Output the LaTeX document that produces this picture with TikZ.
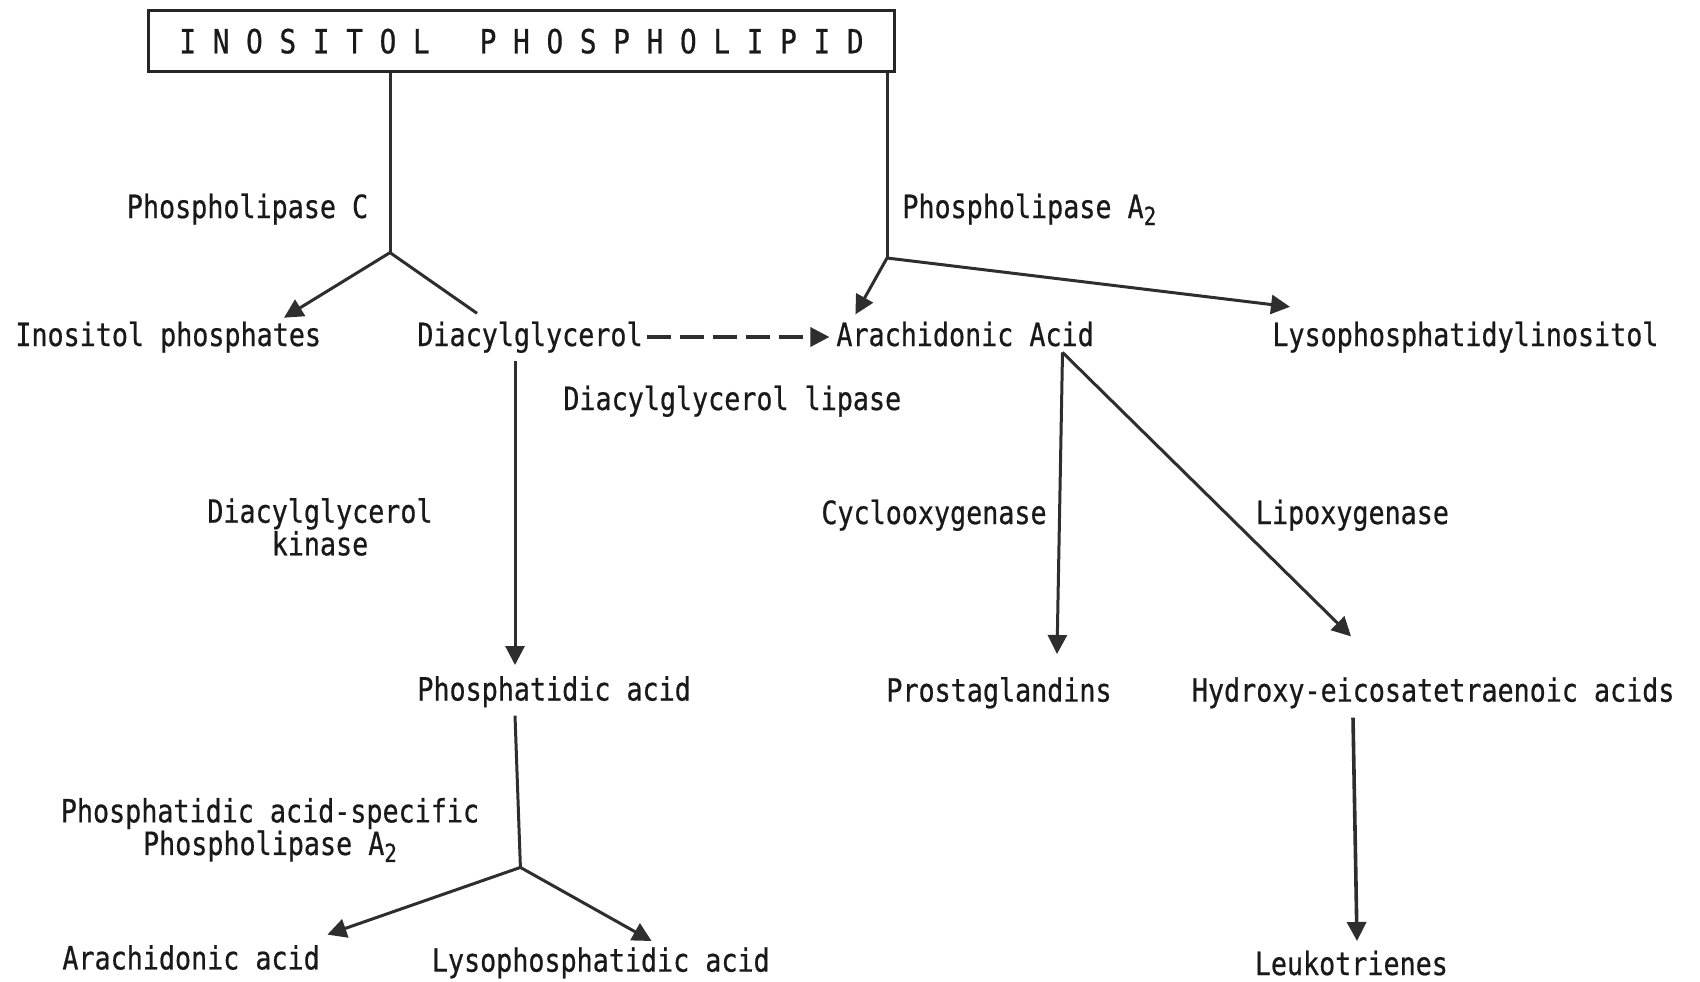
\documentclass[tikz,border=0pt]{standalone}
\usepackage{fontspec}
\newfontfamily\tw[FakeStretch=0.835,FakeBold=0.6]{DejaVu Sans Mono}
\usetikzlibrary{arrows.meta}
\newcommand{\subtwo}{\raisebox{-0.4ex}{\fontsize{12.5}{13}\selectfont 2}}
\begin{document}
\begin{tikzpicture}[x=0.5pt,y=-0.5pt,
  txt/.style={inner sep=0pt,font=\tw\fontsize{16}{16.3}\selectfont,text=black!90},
  ln/.style={line width=1.5pt,draw=black!82},
  arr/.style={ln,-{Triangle[length=9.5pt,width=9.5pt]}},
  dsh/.style={line width=1.7pt,draw=black!82,dash pattern=on 12pt off 4.5pt,-{Triangle[length=9.5pt,width=9.5pt]}}]
\useasboundingbox (0,0) rectangle (1700,981);
\fill[white] (0,0) rectangle (1700,981);
% title box
\node[draw=black!85,line width=1.5pt,minimum width=373pt,minimum height=30.4pt,inner sep=0pt,font=\tw\fontsize{16.6}{17}\selectfont,text=black!90] (box) at (521.5,41.2) {I N O S I T O L~~~P H O S P H O L I P I D};
% labels
\node[txt,anchor=base east] (plc) at (368.6,218) {Phospholipase C};
\node[txt,anchor=base west] (pla) at (902,218) {Phospholipase A\subtwo};
\node[txt,anchor=base west] (ip) at (15,346) {Inositol phosphates};
\node[txt,anchor=base west] (dag) at (417,346) {Diacylglycerol};
\node[txt,anchor=base west] (aa) at (836,346) {Arachidonic Acid};
\node[txt,anchor=base west] (lpi) at (1272,346) {Lysophosphatidylinositol};
\node[txt,anchor=base west] (dgl) at (563,410) {Diacylglycerol lipase};
\node[txt,align=center] (dgk) at (320,527) {Diacylglycerol\\kinase};
\node[txt,anchor=base west] (cox) at (821,524) {Cyclooxygenase};
\node[txt,anchor=base west] (lox) at (1255.5,524) {Lipoxygenase};
\node[txt,anchor=base west] (pa) at (417,700.5) {Phosphatidic acid};
\node[txt,anchor=base west] (pg) at (886,701.6) {Prostaglandins};
\node[txt,anchor=base west] (hete) at (1191.5,701.6) {Hydroxy-eicosatetraenoic acids};
\node[txt,align=center] (paspla) at (270,830) {Phosphatidic acid-specific\\Phospholipase A\subtwo};
\node[txt,anchor=base west] (aa2) at (62,969.4) {Arachidonic acid};
\node[txt,anchor=base west] (lpa) at (431.5,971.6) {Lysophosphatidic acid};
\node[txt,anchor=base west] (lt) at (1254.4,975) {Leukotrienes};
% junctions and arrow ends
\coordinate (j1) at (390,252.6);
\coordinate (j2) at (887,258);
\coordinate (j3) at (520.4,867.4);
\coordinate (a1) at (1062.5,352.4);
\coordinate (tip) at (284,317.7);
\coordinate (dagt) at (477,313.3);
\coordinate (aat) at (855.4,314.4);
\coordinate (lpit) at (1290,306.8);
\coordinate (dags) at (647,337);
\coordinate (aas) at (829.4,337);
\coordinate (dagb) at (515,361);
\coordinate (pat) at (515,665);
\coordinate (pgt) at (1057,654);
\coordinate (hetet) at (1351,636.4);
\coordinate (heteb) at (1353,717.7);
\coordinate (ltt) at (1357,941);
\coordinate (pab) at (515,715.6);
\coordinate (aa2t) at (327.4,934.6);
\coordinate (lpat) at (651.6,941);
% connectors
\draw[ln] (j1 |- box.south) -- (j1);
\draw[arr] (j1) -- (tip);
\draw[ln] (j1) -- (dagt);
\draw[ln] (j2 |- box.south) -- (j2);
\draw[arr] (j2) -- (aat);
\draw[arr] (j2) -- (lpit);
\draw[dsh] (dags) -- (aas);
\draw[arr] (dagb) -- (pat);
\draw[arr] (a1) -- (pgt);
\draw[arr] (a1) -- (hetet);
\draw[arr,line width=1.8pt] (heteb) -- (ltt);
\draw[ln] (pab) -- (j3);
\draw[arr] (j3) -- (aa2t);
\draw[arr] (j3) -- (lpat);
\end{tikzpicture}
\end{document}
